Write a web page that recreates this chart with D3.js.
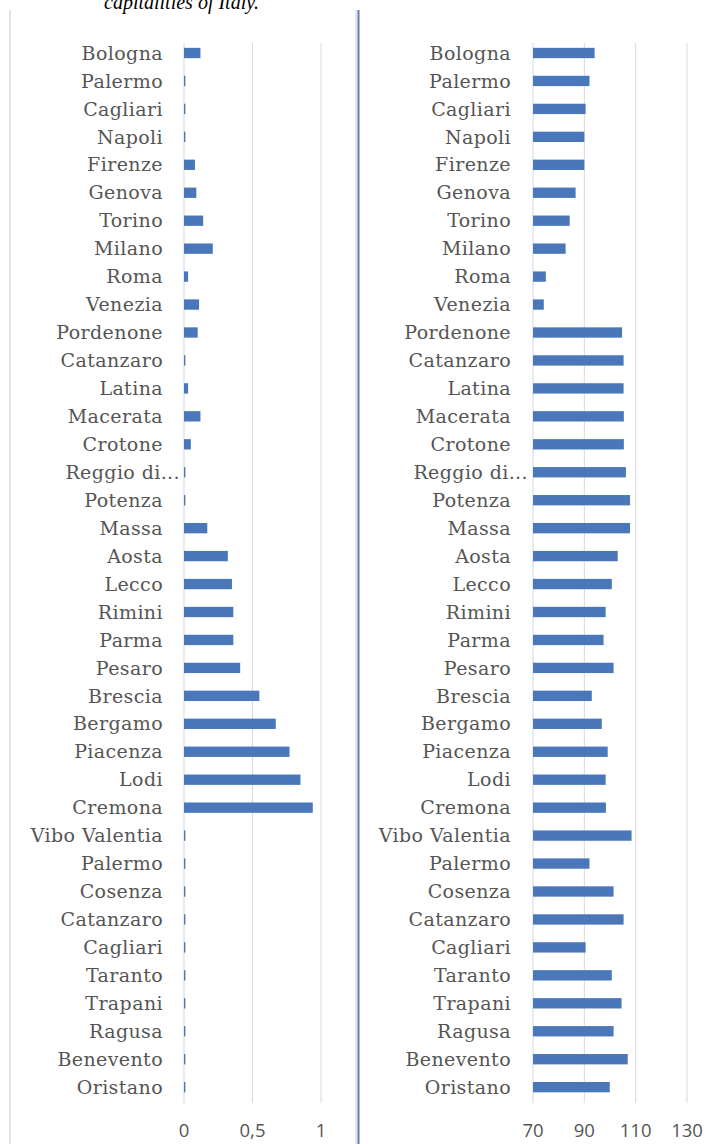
<!DOCTYPE html>
<html>
<head>
<meta charset="utf-8">
<script src="https://cdn.jsdelivr.net/npm/d3@7"></script>
<style>
  body { margin: 0; background: #fff; }
  .lbl { font-family: "DejaVu Serif", serif; font-size: 19px; letter-spacing: 0.4px; fill: #555; }
  .tick-lbl { font-family: "Open Sans", "Liberation Sans", sans-serif; font-size: 18.5px; fill: #555; }
</style>
</head>
<body>
<div id="chart"></div>
<script>
// cities, top to bottom
const cities = ["Bologna", "Palermo", "Cagliari", "Napoli", "Firenze", "Genova", "Torino", "Milano",
  "Roma", "Venezia", "Pordenone", "Catanzaro", "Latina", "Macerata", "Crotone", "Reggio di...",
  "Potenza", "Massa", "Aosta", "Lecco", "Rimini", "Parma", "Pesaro", "Brescia", "Bergamo",
  "Piacenza", "Lodi", "Cremona", "Vibo Valentia", "Palermo", "Cosenza", "Catanzaro", "Cagliari",
  "Taranto", "Trapani", "Ragusa", "Benevento", "Oristano"];

const leftValues = [0.12, 0.01, 0.01, 0.01, 0.08, 0.09, 0.14, 0.21, 0.03, 0.11, 0.10, 0.01, 0.03,
  0.12, 0.05, 0.01, 0.01, 0.17, 0.32, 0.35, 0.36, 0.36, 0.41, 0.55, 0.67, 0.77, 0.85, 0.94,
  0.01, 0.01, 0.01, 0.01, 0.01, 0.01, 0.01, 0.01, 0.01, 0.01];

const rightValues = [94, 92, 90.5, 90, 90, 86.6, 84.3, 82.7, 75, 74.2, 104.7, 105.3, 105.3,
  105.4, 105.4, 106.2, 107.8, 107.8, 103, 100.7, 98.3, 97.5, 101.4, 92.9, 96.8, 99.1, 98.3, 98.4,
  108.4, 92, 101.4, 105.3, 90.5, 100.7, 104.5, 101.4, 106.9, 99.9];

const leftTicks = [0, 0.5, 1];
const leftTickLabels = ["0", "0,5", "1"];
const rightTicks = [70, 90, 110, 130];
const rightTickLabels = ["70", "90", "110", "130"];

const W = 709, H = 1144;
const barColor = "#4a77ba";
const step = 27.95;

const svg = d3.select("#chart").append("svg")
  .attr("width", W)
  .attr("height", H);

// caption, cut off at the top as in the source
svg.append("text")
  .attr("x", 104)
  .attr("y", 9)
  .style("font-family", "'Liberation Serif', serif")
  .style("font-style", "italic")
  .style("font-size", "20px")
  .style("fill", "#000")
  .text("capitalities of Italy.");

// frame lines
svg.append("line")
  .attr("x1", 10).attr("x2", 10).attr("y1", 10).attr("y2", H)
  .attr("stroke", "#d9d9d9").attr("stroke-width", 1.5);
svg.append("line")
  .attr("x1", 356).attr("x2", 356).attr("y1", 10).attr("y2", H)
  .attr("stroke", "#cfe0ee").attr("stroke-width", 1.5);
svg.append("line")
  .attr("x1", 358.5).attr("x2", 358.5).attr("y1", 10).attr("y2", H)
  .attr("stroke", "#6b78a8").attr("stroke-width", 2);

const y = d3.scaleBand()
  .domain(d3.range(cities.length))
  .range([53 - step / 2, 53 - step / 2 + step * cities.length])
  .paddingInner(0.63)
  .paddingOuter(0.315);

function panel(opts) {
  const { values, domain, range, ticks, tickLabels, labelX } = opts;
  const x = d3.scaleLinear().domain(domain).range(range);
  const g = svg.append("g");

  // gridlines
  g.selectAll("line.grid")
    .data(ticks)
    .enter().append("line")
    .attr("class", "grid")
    .attr("x1", d => x(d)).attr("x2", d => x(d))
    .attr("y1", 43).attr("y2", 1103)
    .attr("stroke", d => d === domain[0] ? "#c9d9ea" : "#d9d9d9")
    .attr("stroke-width", 1);

  // bars
  g.selectAll("rect")
    .data(values)
    .enter().append("rect")
    .attr("x", x(domain[0]))
    .attr("y", (d, i) => y(i))
    .attr("width", d => Math.max(1.2, x(d) - x(domain[0])))
    .attr("height", y.bandwidth())
    .attr("fill", barColor);

  // category labels
  g.selectAll("text.lbl")
    .data(cities)
    .enter().append("text")
    .attr("class", "lbl")
    .attr("x", d => d.endsWith("...") ? labelX + 17 : labelX)
    .attr("y", (d, i) => y(i) + y.bandwidth() / 2)
    .attr("dy", "0.35em")
    .attr("text-anchor", "end")
    .text(d => d);

  // tick labels
  g.selectAll("text.tick-lbl")
    .data(ticks)
    .enter().append("text")
    .attr("class", "tick-lbl")
    .attr("x", d => x(d))
    .attr("y", 1137)
    .attr("text-anchor", "middle")
    .text((d, i) => tickLabels[i]);
}

panel({ values: leftValues, domain: [0, 1], range: [184, 321],
  ticks: leftTicks, tickLabels: leftTickLabels, labelX: 163 });
panel({ values: rightValues, domain: [70, 130], range: [533, 687],
  ticks: rightTicks, tickLabels: rightTickLabels, labelX: 511 });
</script>
</body>
</html>
